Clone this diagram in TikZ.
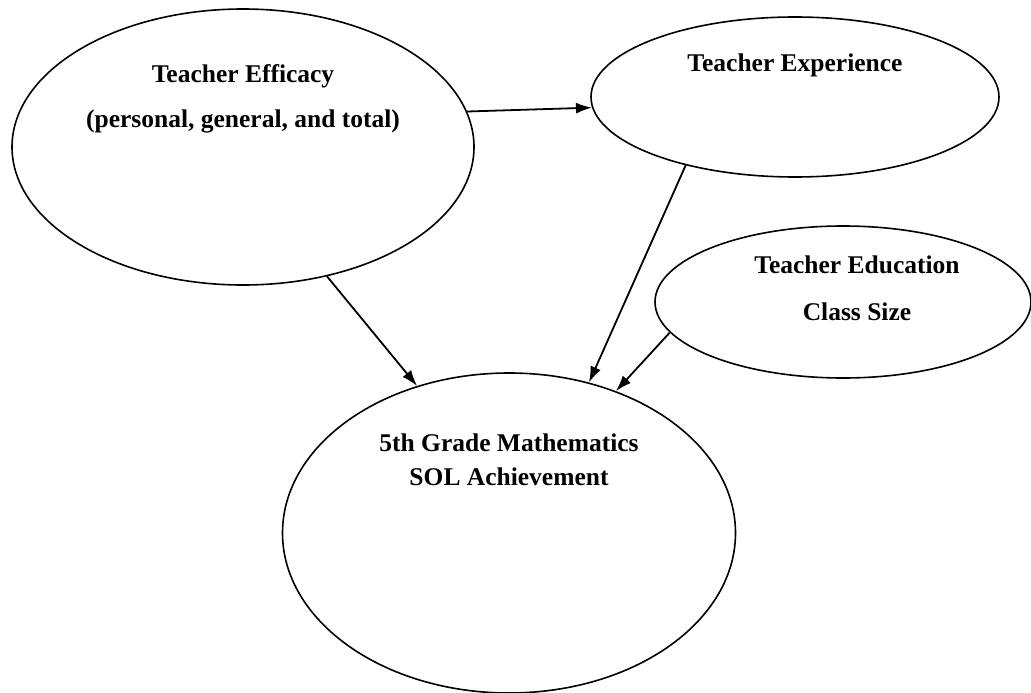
\documentclass[tikz,border=0pt]{standalone}
\usepackage{fontspec}
\setmainfont{Liberation Serif}
\usetikzlibrary{shapes.geometric,arrows.meta}
\begin{document}
\begin{tikzpicture}[x=1pt,y=-1pt,
  oval/.style={draw,ellipse,inner sep=0pt,line width=1.6pt},
  lbl/.style={font=\fontsize{25.5}{30}\selectfont\bfseries,inner sep=0pt,anchor=center},
  arr/.style={line width=1.8pt,-{Latex[length=16pt,width=11pt]}}]
\useasboundingbox (0,0) rectangle (1031,693);
\node[oval,minimum width=462pt,minimum height=276pt] (e1) at (243,147) {};
\node[oval,minimum width=408pt,minimum height=160pt] (e2) at (795,97) {};
\node[oval,minimum width=376pt,minimum height=152pt] (e3) at (843,302) {};
\node[oval,minimum width=453pt,minimum height=320pt] (e4) at (509,533) {};
\node[lbl] (t1a) at (243,76) {Teacher Efficacy};
\node[lbl] (t1b) at (243,121) {(personal, general, and total)};
\node[lbl] (t2) at (795,65) {Teacher Experience};
\node[lbl] (t3a) at (857,265) {Teacher Education};
\node[lbl] (t3b) at (857,312) {Class Size};
\node[lbl] (t4a) at (509,443) {5th Grade Mathematics};
\node[lbl] (t4b) at (509,477) {SOL Achievement};
\draw[arr] (e1.9.8) -- (e2.-177.2);
\draw[arr] (e1.-57.7) -- (e4.122.9);
\draw[arr] (e2.-148.3) -- (e4.62.3);
\draw[arr] (e3.-170.2) -- (e4.53.4);
\end{tikzpicture}
\end{document}
